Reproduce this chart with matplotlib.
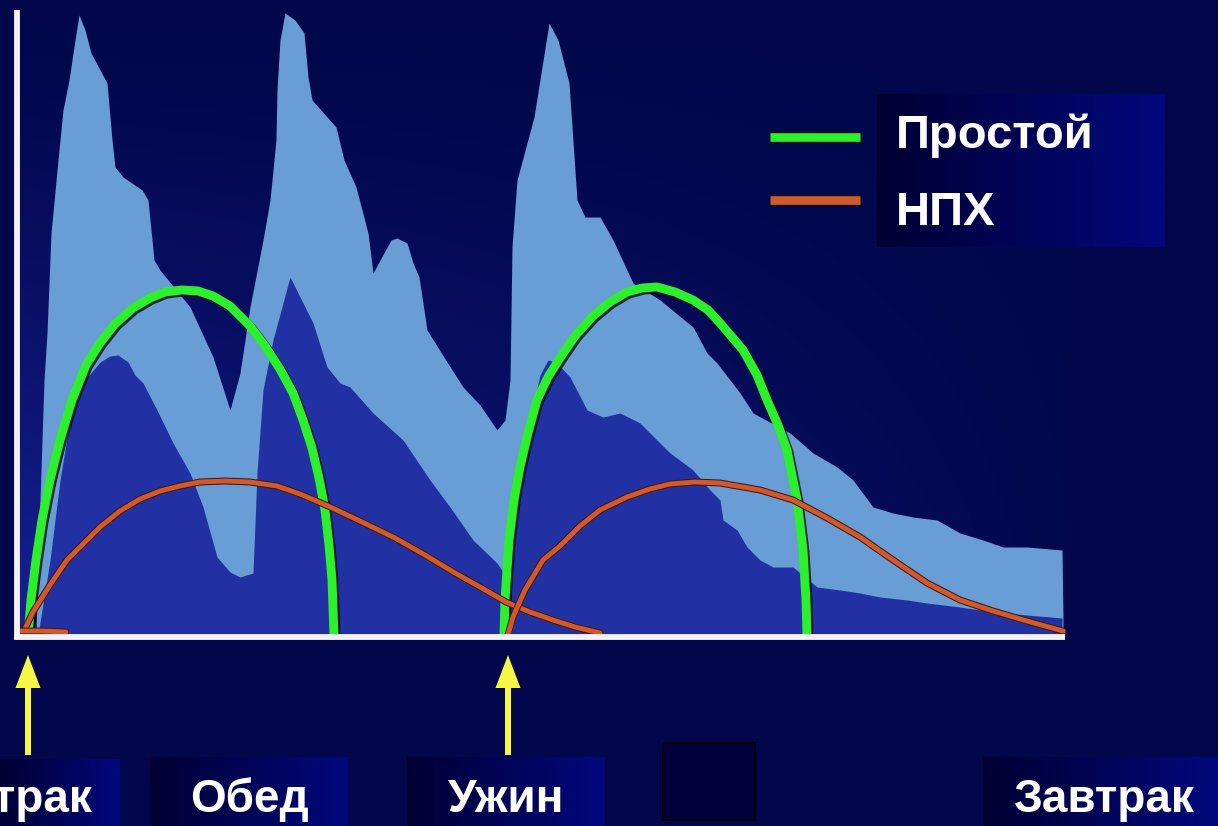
import matplotlib
matplotlib.use("Agg")
import matplotlib.pyplot as plt
import matplotlib.patheffects as pe
from matplotlib.patches import Rectangle
import numpy as np

# ── Data ──────────────────────────────────────────────────────────────────────
# time in arbitrary units (breakfast ~1, dinner ~49), glucose level in arbitrary units

# upper (light blue) glucose envelope
env_t = [1.8, 2.2, 2.6, 2.9, 3.3, 4.1, 4.5, 5.1, 5.7, 6.1, 6.7, 7.3, 8.9, 9.4, 9.7,
         10.5, 12.4, 13.0, 13.6, 14.2, 17.2, 19.5, 21.2, 22.2, 23.2, 24.5, 25.2, 25.8,
         25.9, 26.2, 26.7, 27.7, 28.6, 29.0, 29.4, 31.8, 32.6, 33.8, 35.0, 35.5, 37.3,
         37.9, 38.9, 39.5, 40.1, 40.9, 42.9, 44.5, 46.2, 47.9, 48.7, 49.2, 49.4, 49.9,
         51.6, 53.1, 54.0, 55.1, 55.9, 56.7, 58.2, 59.5, 61.5, 64.2, 67.5, 68.9, 69.9,
         72.2, 73.5, 77.2, 79.5, 81.9, 83.5, 85.5, 87.5, 89.5, 91.9, 94.2, 96.5, 98.5,
         100.9, 104.4, 104.5]
env_y = [0.0, 13.5, 25.5, 30.2, 40.2, 48.5, 52.5, 55.5, 59.5, 62.0, 60.5, 58.2, 55.2,
         49.5, 46.8, 45.8, 44.5, 43.5, 37.5, 36.5, 32.8, 27.8, 22.5, 26.2, 32.8, 39.5,
         43.5, 49.5, 54.5, 59.5, 62.2, 61.5, 60.2, 55.8, 53.5, 50.8, 47.5, 44.8, 40.2,
         36.2, 39.5, 39.7, 39.2, 37.2, 35.8, 30.5, 27.3, 24.8, 23.0, 20.5, 21.5, 25.5,
         38.8, 45.5, 51.8, 61.2, 59.5, 55.2, 43.5, 41.8, 41.8, 39.5, 35.2, 33.5, 30.8,
         28.2, 27.2, 24.2, 22.2, 20.2, 18.2, 16.8, 15.5, 12.8, 12.2, 11.8, 11.5, 10.2,
         9.5, 8.8, 8.8, 8.5, 1.5]

# lower (dark blue) glucose layer
low_t = [2.0, 3.2, 4.2, 5.2, 6.7, 8.2, 9.2, 10.0, 11.0, 11.7, 12.5, 13.9, 15.5, 17.2,
         18.5, 19.9, 21.2, 22.2, 23.5, 23.9, 24.5, 25.5, 27.2, 29.5, 30.9, 32.2, 33.2,
         35.5, 38.5, 41.2, 43.2, 45.5, 47.9, 48.7, 49.4, 50.2, 51.2, 52.2, 53.0, 53.8,
         55.2, 56.9, 58.5, 60.2, 62.2, 65.2, 67.5, 69.2, 70.2, 70.5, 71.9, 72.9, 74.2,
         75.5, 77.5, 79.9, 82.2, 84.2, 86.2, 88.9, 90.9, 94.2, 97.5, 100.9, 104.4]
low_y = [0.0, 7.5, 15.5, 21.5, 25.5, 27.3, 27.9, 28.0, 27.3, 26.0, 25.2, 22.5, 19.2,
         16.2, 12.8, 7.8, 6.3, 5.8, 6.2, 16.2, 24.5, 29.5, 35.8, 31.2, 26.8, 25.2, 24.8,
         22.2, 19.5, 15.5, 12.8, 9.5, 7.2, 6.0, 8.0, 14.5, 21.5, 26.0, 27.5, 27.3, 25.8,
         22.5, 21.8, 22.2, 21.2, 18.2, 16.5, 14.5, 13.5, 11.5, 10.5, 8.8, 7.5, 6.8, 6.8,
         4.8, 4.5, 4.2, 3.8, 3.5, 3.2, 2.8, 2.3, 2.0, 1.7]

# simple insulin ("Простой"), after breakfast and after dinner
simple1_t = [1.0, 1.3, 1.8, 2.4, 3.2, 4.2, 5.4, 6.8, 8.2, 9.7, 11.5, 13.2, 14.7, 16.4,
             18.0, 19.5, 21.2, 23.2, 24.7, 26.2, 27.5, 28.5, 29.4, 30.1, 30.7, 31.1,
             31.4, 31.6]
simple1_y = [0.0, 3.5, 7.5, 11.5, 15.5, 19.5, 23.5, 27.0, 29.2, 31.1, 32.7, 33.7, 34.3,
             34.5, 34.4, 33.9, 32.9, 30.9, 28.9, 26.6, 24.2, 21.5, 18.7, 15.7, 12.5,
             9.0, 5.5, 0.0]
simple2_t = [48.6, 48.7, 49.1, 49.6, 50.2, 51.0, 51.9, 53.0, 54.2, 55.7, 57.5, 59.2,
             60.9, 62.4, 63.9, 65.7, 67.5, 69.0, 70.2, 72.5, 73.9, 74.9, 76.0, 76.9,
             77.9, 78.5, 78.8, 78.9]
simple2_y = [0.0, 3.5, 9.5, 13.5, 16.8, 20.2, 23.5, 25.8, 27.7, 29.9, 31.9, 33.3, 34.3,
             34.7, 34.8, 34.3, 33.5, 32.5, 31.2, 28.5, 26.0, 23.5, 21.0, 18.5, 13.5,
             8.5, 3.5, 0.0]

# NPH insulin ("НПХ")
nph1_t = [0.4, 1.5, 3.2, 4.9, 6.7, 8.2, 10.2, 12.2, 14.2, 16.2, 18.2, 20.7, 23.2, 25.9,
          28.2, 31.0, 34.2, 37.7, 40.7, 43.7, 46.2, 48.8, 51.2, 53.5, 55.7, 58.2]
nph1_y = [0.0, 2.3, 5.0, 7.5, 9.3, 10.8, 12.4, 13.6, 14.4, 14.9, 15.3, 15.4, 15.3, 14.9,
          14.1, 12.9, 11.4, 9.7, 8.0, 6.2, 4.8, 3.3, 2.3, 1.5, 0.8, 0.2]
nph2_t = [49.0, 49.5, 50.7, 52.5, 54.2, 56.2, 58.2, 60.9, 63.2, 65.2, 67.7, 70.2, 74.2,
          77.5, 80.9, 84.2, 87.5, 90.9, 94.2, 97.5, 100.9, 104.5]
nph2_y = [0.0, 1.8, 4.5, 7.5, 8.9, 10.9, 12.5, 13.8, 14.6, 15.1, 15.3, 15.2, 14.5, 13.5,
          11.7, 9.8, 7.5, 5.2, 3.5, 2.4, 1.4, 0.4]
nph_tail_t = [0.3, 2.5, 4.8]
nph_tail_y = [0.4, 0.4, 0.3]

meal_t = [1.0, 49.0]          # breakfast, dinner (arrows)
legend_labels = ["Простой", "НПХ"]
meal_labels = ["Завтрак", "Обед", "Ужин", "Завтрак"]

# ── Style ─────────────────────────────────────────────────────────────────────
BG = "#01074a"
GLOW = np.array([24, 32, 150]) / 255
NAVY = np.array([1, 7, 74]) / 255
LIGHT = "#689dd5"
DARK = "#2131a4"
GREEN = "#2cf02c"
ORANGE = "#cf5a30"
YELLOW = "#f6f645"
FONT = ["Liberation Sans", "DejaVu Sans"]

fig = plt.figure(figsize=(12.18, 8.26), dpi=100, facecolor=BG)
ax = fig.add_axes([0, 0, 1, 1])
ax.set_facecolor(BG)
ax.axis("off")

# 1 data unit = 10 px; t=0 at px 18, y=0 at px 635
X0, X1 = -1.8, 120.0
Y0, Y1 = -19.1, 63.5


def px(x, y):
    return (x - 18) / 10, (635 - y) / 10


def grad_box(x0, y0, x1, y1, c0="#000033", c1="#00087c", z=3):
    a, b = px(x0, y1)
    c, d = px(x1, y0)
    g = np.linspace(0, 1, 256)[None, :, None]
    rgb = (1 - g) * np.array(matplotlib.colors.to_rgb(c0)) + g * np.array(matplotlib.colors.to_rgb(c1))
    ax.imshow(rgb, extent=[a, c, b, d], aspect="auto", zorder=z, interpolation="bilinear")


# soft glow inside the plot area, fading out to the right
gy, gx = np.mgrid[0:200, 0:400]
yy = 63 * (1 - gy / 199)
tt = -0.2 + 104.9 * gx / 399
f = ((63 - yy) / 63) ** 1.3 * np.clip(1 - 0.95 * tt / 105, 0, 1)
glow = NAVY[None, None, :] * (1 - f[..., None]) + GLOW[None, None, :] * f[..., None]
ax.imshow(glow, extent=[-0.2, 104.7, 0, 63], aspect="auto", zorder=0, interpolation="bilinear")

ax.fill_between(env_t, env_y, 0, color=LIGHT, lw=0, zorder=1)
ax.fill_between(low_t, low_y, 0, color=DARK, lw=0, zorder=2)

green_fx = [pe.SimpleLineShadow(offset=(1.5, -1.5), shadow_color="#020a10", alpha=0.8),
            pe.Normal()]
orange_fx = [pe.Stroke(linewidth=5.0, foreground="#4a1408"), pe.Normal()]
for t, y in [(simple1_t, simple1_y), (simple2_t, simple2_y)]:
    ax.plot(t, y, color=GREEN, lw=6.4, solid_joinstyle="round", solid_capstyle="butt",
            path_effects=green_fx, zorder=4)
for t, y in [(nph1_t, nph1_y), (nph2_t, nph2_y), (nph_tail_t, nph_tail_y)]:
    ax.plot(t, y, color=ORANGE, lw=3.5, solid_joinstyle="round", solid_capstyle="round",
            path_effects=orange_fx, zorder=5)

# axes lines
ax.plot([-0.15, -0.15], [-0.2, 62.5], color="#f2f2f6", lw=4.2, zorder=6, solid_capstyle="butt")
ax.plot([-0.4, 104.7], [-0.2, -0.2], color="#f2f2f6", lw=4.2, zorder=6, solid_capstyle="butt")

# meal arrows
for t in meal_t:
    ax.arrow(t, -12.0, 0, 10.0, width=0.6, head_width=2.5, head_length=3.3,
             length_includes_head=True, color=YELLOW, lw=0, zorder=6)

# legend
lg = [(GREEN, 137, 148), (ORANGE, 200, 225)]
grad_box(877, 95, 1165, 247)
for (col, ly, by), lab in zip(lg, legend_labels):
    a, yl = px(770, ly)
    b, _ = px(860, ly)
    ax.plot([a, b], [yl, yl], color=col, lw=6.2, solid_capstyle="butt",
            path_effects=[pe.Stroke(linewidth=8.2, foreground="#1a0a05"), pe.Normal()], zorder=7)
    tx, ty = px(896, by)
    ax.text(tx, ty, lab, color="white", fontsize=34, fontweight="bold", family=FONT,
            ha="left", va="baseline", zorder=8)

# meal labels along the bottom (the first one runs off the left edge)
boxes = [(0, 760, 120, 826, 93, "right"),
         (150, 758, 348, 826, 249, "center"),
         (407, 758, 605, 826, 506, "center"),
         (983, 758, 1218, 826, 1104, "center")]
for (x0, y0, x1, y1, tx, ha), lab in zip(boxes, meal_labels):
    grad_box(x0, y0, x1, y1)
    a, b = px(tx, 812)
    ax.text(a, b, lab, color="white", fontsize=33, fontweight="bold", family=FONT,
            ha=ha, va="baseline", zorder=8)

# empty square placeholder
a, b = px(663, 820)
c, d = px(755, 743)
ax.add_patch(Rectangle((a, b), c - a, d - b, facecolor="#00003c", edgecolor="black",
                       lw=1.5, zorder=3))

ax.set_xlim(X0, X1)
ax.set_ylim(Y0, Y1)
fig.savefig("out.png", dpi=100, facecolor=BG)
